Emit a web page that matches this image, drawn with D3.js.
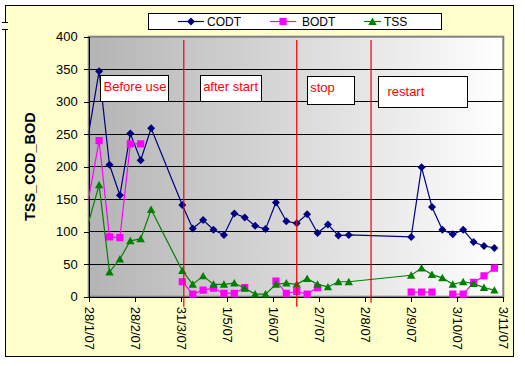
<!DOCTYPE html>
<html>
<head>
<meta charset="utf-8">
<script src="https://cdn.jsdelivr.net/npm/d3@7"></script>
<style>
  body { margin: 0; background: #fff; }
  text { font-family: "Liberation Sans", Arial, sans-serif; }
</style>
</head>
<body>
<div id="chart"></div>
<script>
// weekly samples (first one lies before the axis start and is clipped)
const sampleDates = ["21/1/07", "4/2/07", "11/2/07", "18/2/07", "25/2/07", "4/3/07", "11/3/07",
  "1/4/07", "8/4/07", "15/4/07", "22/4/07", "29/4/07", "6/5/07", "13/5/07", "20/5/07", "27/5/07",
  "3/6/07", "10/6/07", "17/6/07", "24/6/07", "1/7/07", "8/7/07", "15/7/07", "22/7/07",
  "2/9/07", "9/9/07", "16/9/07", "23/9/07", "30/9/07", "7/10/07", "14/10/07", "21/10/07", "28/10/07"];

const codt = [157, 347, 203, 156, 251, 210, 259, 141, 105, 118, 103, 95, 128, 122, 109, 104,
  145, 116, 113, 127, 98, 111, 94, 95, 92, 199, 138, 103, 96, 103, 84, 78, 75];
const bodt = [63, 240, 92, 91, 235, 235, null, 23, 4, 10, 13, 5, 5, 14, null, null,
  24, 5, 8, 4, 14, null, null, null, 7, 7, 7, null, 4, 4, 22, 32, 44];
const tss = [58, 172, 38, 58, 86, 89, 134, 40, 19, 32, 19, 19, 21, 13, 4, 4,
  19, 21, 19, 28, 19, 15, 23, 23, 33, 44, 34, 29, 19, 23, 20, 14, 10];

const tickLabels = ["28/1/07", "28/2/07", "31/3/07", "1/5/07", "1/6/07", "2/7/07",
  "2/8/07", "2/9/07", "3/10/07", "3/11/07"];
const yTicks = [0, 50, 100, 150, 200, 250, 300, 350, 400];

const eventDates = ["2/4/07", "17/6/07", "6/8/07"];
const noteLabels = ["Before use", "after start", "stop", "restart"];
const noteStart = ["5/2/07", "13/4/07", "24/6/07", "11/8/07"];
const noteEnd = ["23/3/07", "24/5/07", "26/7/07", "10/10/07"];
const noteTop = [340, 340, 339, 339];
const noteBottom = [300, 300, 296, 291];

const seriesNames = ["CODT", "BODT", "TSS"];
const seriesColors = ["#000080", "#ff00ff", "#008000"];

const parse = d3.timeParse("%d/%m/%y");
const dates = sampleDates.map(parse);
const series = [codt, bodt, tss].map((vals, i) => ({
  name: seriesNames[i],
  color: seriesColors[i],
  values: vals.map((v, j) => ({ date: dates[j], v }))
}));

const W = 525, H = 366;
const margin = { top: 36.7, right: 21.7, bottom: 69.3, left: 88.7 };
const width = W - margin.left - margin.right;
const height = H - margin.top - margin.bottom;

const svg = d3.select('#chart').append('svg')
  .attr('width', W).attr('height', H);

// outer chart frame
svg.append('rect').attr('x', 5).attr('y', 5).attr('width', 508).attr('height', 351)
  .attr('fill', '#ffffcc');
svg.append('path')
  .attr('d', 'M5,22V5H513V356H5V29M2,22H8M2,29H8')
  .attr('fill', 'none').attr('stroke', '#000').attr('stroke-width', 1)
  .attr('shape-rendering', 'crispEdges');

const defs = svg.append('defs');
const grad = defs.append('linearGradient').attr('id', 'bg').attr('x1', 0).attr('x2', 1).attr('y1', 0).attr('y2', 0);
grad.append('stop').attr('offset', '0%').attr('stop-color', '#b4b4b4');
grad.append('stop').attr('offset', '100%').attr('stop-color', '#ffffff');
defs.append('clipPath').attr('id', 'clip').append('rect')
  .attr('x', 0).attr('y', -6).attr('width', width).attr('height', height + 12);

const x = d3.scaleTime()
  .domain([parse(tickLabels[0]), parse(tickLabels[tickLabels.length - 1])])
  .range([0, width]);
const y = d3.scaleLinear().domain([0, 400]).range([height, 0]);

const g = svg.append('g').attr('transform', `translate(${margin.left},${margin.top})`);

g.append('rect').attr('width', width).attr('height', height).attr('fill', 'url(#bg)');

// gridlines
g.append('g').selectAll('line')
  .data(yTicks.filter(d => d > 0 && d < 400))
  .enter().append('line')
  .attr('x1', 0).attr('x2', width)
  .attr('y1', d => y(d)).attr('y2', d => y(d))
  .attr('stroke', '#000').attr('shape-rendering', 'crispEdges');

g.append('rect').attr('width', width).attr('height', height)
  .attr('fill', 'none').attr('stroke', '#808080').attr('stroke-width', 2);

// axes
const xAxis = g.append('g')
  .attr('transform', `translate(0,${height})`)
  .call(d3.axisBottom(x)
    .tickValues(tickLabels.map(parse))
    .tickFormat((d, i) => tickLabels[i])
    .tickSize(5).tickSizeOuter(0));
xAxis.selectAll('text')
  .attr('transform', 'rotate(90)')
  .attr('x', 10).attr('y', 0).attr('dy', '0.36em')
  .style('text-anchor', 'start');

const yAxis = g.append('g')
  .call(d3.axisLeft(y).tickValues(yTicks).tickSize(5).tickSizeOuter(0).tickPadding(6));

[xAxis, yAxis].forEach(a => {
  a.selectAll('text').attr('font-size', 13).attr('fill', '#000')
    .style('font-family', '"Liberation Sans", Arial, sans-serif');
  a.selectAll('line, path').attr('stroke', '#000').attr('shape-rendering', 'crispEdges');
});

svg.append('text')
  .attr('transform', `translate(35,${margin.top + height / 2}) rotate(-90)`)
  .attr('text-anchor', 'middle')
  .attr('font-size', 14.5).attr('font-weight', 'bold')
  .text('TSS_COD_BOD');

// markers
const markerPath = {
  CODT: 'M0,-4L4,0L0,4L-4,0Z',
  BODT: 'M-3.6,-3.6H3.6V3.6H-3.6Z',
  TSS: 'M0,-4L4.2,3.4H-4.2Z'
};

const line = d3.line()
  .defined(d => d.v != null)
  .x(d => x(d.date)).y(d => y(d.v));

const data = g.append('g').attr('clip-path', 'url(#clip)');
series.forEach(s => {
  data.append('path')
    .datum(s.values)
    .attr('fill', 'none').attr('stroke', s.color).attr('stroke-width', 1.2)
    .attr('d', line);
  data.selectAll(null)
    .data(s.values.filter(d => d.v != null))
    .enter().append('path')
    .attr('transform', d => `translate(${x(d.date)},${y(d.v)})`)
    .attr('d', markerPath[s.name])
    .attr('fill', s.color);
});

// annotation boxes
noteLabels.forEach((label, i) => {
  const x0 = x(parse(noteStart[i])), x1 = x(parse(noteEnd[i]));
  const y0 = y(noteTop[i]), y1 = y(noteBottom[i]);
  g.append('rect')
    .attr('x', x0).attr('y', y0).attr('width', x1 - x0).attr('height', y1 - y0)
    .attr('fill', '#fff').attr('stroke', '#000').attr('shape-rendering', 'crispEdges');
  g.append('text')
    .attr('x', x0 + (i === 3 ? 9 : 3)).attr('y', y0 + (i === 3 ? 19.5 : 15.5))
    .attr('fill', '#ff0000').attr('font-size', 13)
    .text(label);
});

// event lines
g.append('g').selectAll('line')
  .data(eventDates.map(parse))
  .enter().append('line')
  .attr('x1', d => x(d)).attr('x2', d => x(d))
  .attr('y1', y(395)).attr('y2', (d, i) => y(0) + (i === 2 ? 6 : 10))
  .attr('stroke', '#ee0000').attr('stroke-width', 1.2);

// legend
const legend = svg.append('g');
legend.append('rect').attr('x', 148.5).attr('y', 13.5).attr('width', 293).attr('height', 16)
  .attr('fill', '#fff').attr('stroke', '#000');
const legendX = [178, 270, 364];
series.forEach((s, i) => {
  const lg = legend.append('g').attr('transform', `translate(${legendX[i]},21.5)`);
  lg.append('line').attr('x1', 0).attr('x2', i === 2 ? 17 : 26)
    .attr('stroke', s.color).attr('stroke-width', 1.2);
  lg.append('path').attr('d', markerPath[s.name])
    .attr('transform', `translate(${i === 2 ? 8.5 : 13},0)`)
    .attr('fill', s.color);
  lg.append('text').attr('x', i === 2 ? 20 : (i === 0 ? 29 : 32)).attr('y', 4.3)
    .attr('font-size', 12).text(s.name);
});
</script>
</body>
</html>
